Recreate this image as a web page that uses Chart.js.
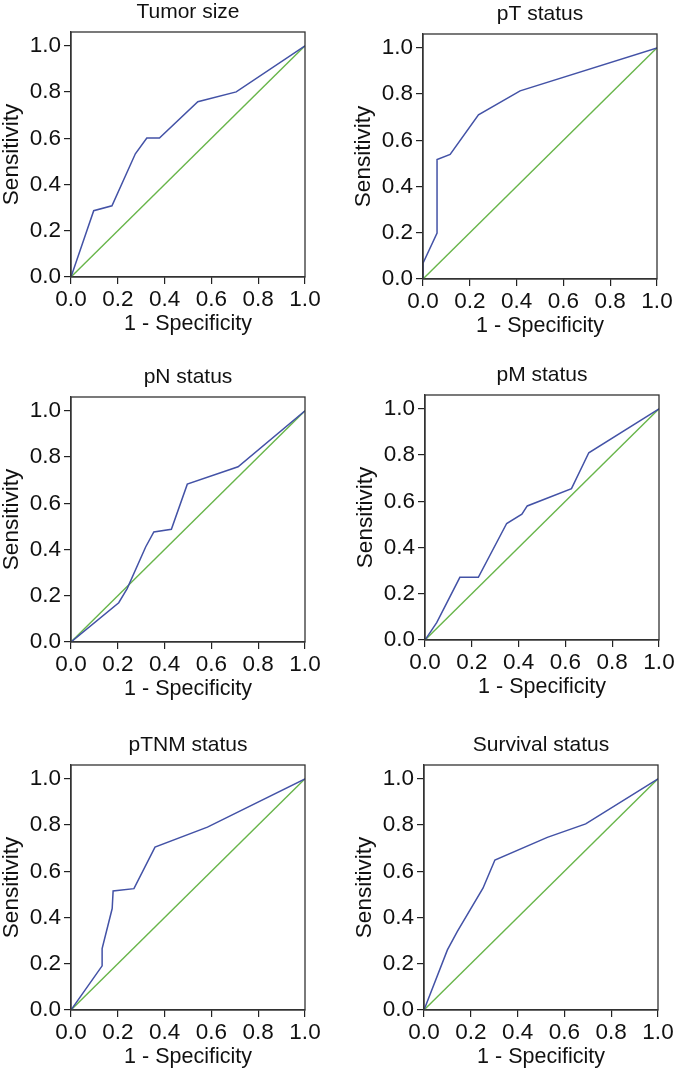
<!DOCTYPE html>
<html>
<head>
<meta charset="utf-8">
<script src="https://cdn.jsdelivr.net/npm/chart.js@4.4.1/dist/chart.umd.min.js"></script>
<style>
  html, body { margin: 0; padding: 0; background: #fff; overflow: hidden; }
  body { width: 677px; height: 1073px; position: relative; }
  canvas { position: absolute; }
</style>
</head>
<body>
<canvas id="c1" width="330" height="348" style="left:1px;top:-13px"></canvas>
<canvas id="c2" width="330" height="348" style="left:353px;top:-11px"></canvas>
<canvas id="c3" width="330" height="348" style="left:1px;top:352px"></canvas>
<canvas id="c4" width="330" height="348" style="left:355px;top:350px"></canvas>
<canvas id="c5" width="330" height="348" style="left:1px;top:720px"></canvas>
<canvas id="c6" width="330" height="348" style="left:354px;top:720px"></canvas>
<script>
  // tick values shared by both axes
  const axisTicks = [0, 0.2, 0.4, 0.6, 0.8, 1.0];
  // reference diagonal
  const refX = [0, 1];
  const refY = [0, 1];

  const titles = ['Tumor size', 'pT status', 'pN status', 'pM status', 'pTNM status', 'Survival status'];

  // 1 - specificity (x) and sensitivity (y)
  const tumorFpr = [0, 0.097, 0.175, 0.275, 0.324, 0.378, 0.542, 0.706, 1];
  const tumorTpr = [0, 0.287, 0.308, 0.533, 0.601, 0.601, 0.758, 0.801, 1];
  const ptFpr = [0, 0, 0.060, 0.060, 0.116, 0.237, 0.415, 1];
  const ptTpr = [0, 0.068, 0.199, 0.517, 0.539, 0.710, 0.814, 1];
  const pnFpr = [0, 0.204, 0.240, 0.319, 0.354, 0.429, 0.497, 0.714, 1];
  const pnTpr = [0, 0.170, 0.231, 0.411, 0.476, 0.488, 0.683, 0.758, 1];
  const pmFpr = [0, 0.050, 0.149, 0.228, 0.349, 0.414, 0.437, 0.626, 0.700, 1];
  const pmTpr = [0, 0.075, 0.271, 0.271, 0.504, 0.544, 0.580, 0.655, 0.810, 1];
  const ptnmFpr = [0, 0.133, 0.133, 0.176, 0.180, 0.269, 0.359, 0.583, 1];
  const ptnmTpr = [0, 0.191, 0.266, 0.439, 0.515, 0.525, 0.705, 0.791, 1];
  const survFpr = [0, 0.100, 0.142, 0.252, 0.303, 0.527, 0.691, 1];
  const survTpr = [0, 0.260, 0.339, 0.527, 0.649, 0.747, 0.805, 1];

  const curves = [
    [tumorFpr, tumorTpr],
    [ptFpr, ptTpr],
    [pnFpr, pnTpr],
    [pmFpr, pmTpr],
    [ptnmFpr, ptnmTpr],
    [survFpr, survTpr]
  ];

  const FONT = '"Liberation Sans", Arial, sans-serif';

  function toPoints(xs, ys) {
    return xs.map((x, i) => ({ x: x, y: ys[i] }));
  }

  // box around the plot + panel title centred on the plot area
  const panelFrame = {
    id: 'panelFrame',
    afterDraw(chart, args, opts) {
      const { ctx, chartArea: a } = chart;
      ctx.save();
      ctx.strokeStyle = '#333';
      ctx.lineWidth = 1.3;
      ctx.strokeRect(a.left, a.top, a.right - a.left, a.bottom - a.top);
      ctx.fillStyle = '#111';
      ctx.font = '21px ' + FONT;
      ctx.textAlign = 'center';
      ctx.textBaseline = 'alphabetic';
      ctx.fillText(opts.text, (a.left + a.right) / 2, a.top - 14.5);
      ctx.restore();
    }
  };

  function fixTicks(scale) {
    scale.ticks = axisTicks.map(v => ({ value: v }));
  }

  function makePanel(id, title, xs, ys) {
    const ctx = document.getElementById(id).getContext('2d');
    new Chart(ctx, {
      type: 'line',
      data: {
        datasets: [{
          data: toPoints(xs, ys),
          borderColor: '#4352a6',
          borderWidth: 1.5,
          pointRadius: 0,
          tension: 0
        }, {
          data: toPoints(refX, refY),
          borderColor: '#68b54a',
          borderWidth: 1.4,
          pointRadius: 0,
          tension: 0
        }]
      },
      options: {
        responsive: false,
        animation: false,
        events: [],
        layout: { padding: { top: 45, right: 26, left: 0, bottom: 0 } },
        plugins: {
          legend: { display: false },
          tooltip: { enabled: false },
          panelFrame: { text: title }
        },
        scales: {
          x: {
            type: 'linear',
            min: 0,
            max: 1,
            afterBuildTicks: fixTicks,
            afterFit: s => { s.height = 58; },
            grid: { drawOnChartArea: false, drawTicks: true, tickLength: 7, color: '#222', lineWidth: 1.2 },
            border: { display: true, color: '#333', width: 1.3 },
            ticks: {
              padding: 2,
              color: '#111',
              maxRotation: 0,
              font: { family: FONT, size: 22.5 },
              callback: v => v.toFixed(1)
            },
            title: {
              display: true,
              text: '1 - Specificity',
              color: '#111',
              padding: 0,
              font: { family: FONT, size: 21.5, lineHeight: 1 }
            }
          },
          y: {
            min: 0,
            max: 1.06,
            afterBuildTicks: fixTicks,
            afterFit: s => { s.width = 70; },
            grid: { drawOnChartArea: false, drawTicks: true, tickLength: 7, color: '#222', lineWidth: 1.2 },
            border: { display: true, color: '#333', width: 1.3 },
            ticks: {
              padding: 3,
              color: '#111',
              font: { family: FONT, size: 22.5 },
              callback: v => v.toFixed(1)
            },
            title: {
              display: true,
              text: 'Sensitivity',
              color: '#111',
              padding: { top: 0, bottom: 0 },
              font: { family: FONT, size: 22.5, lineHeight: 1 }
            }
          }
        }
      },
      plugins: [panelFrame]
    });
  }

  ['c1', 'c2', 'c3', 'c4', 'c5', 'c6'].forEach((id, i) => {
    makePanel(id, titles[i], curves[i][0], curves[i][1]);
  });
</script>
</body>
</html>
